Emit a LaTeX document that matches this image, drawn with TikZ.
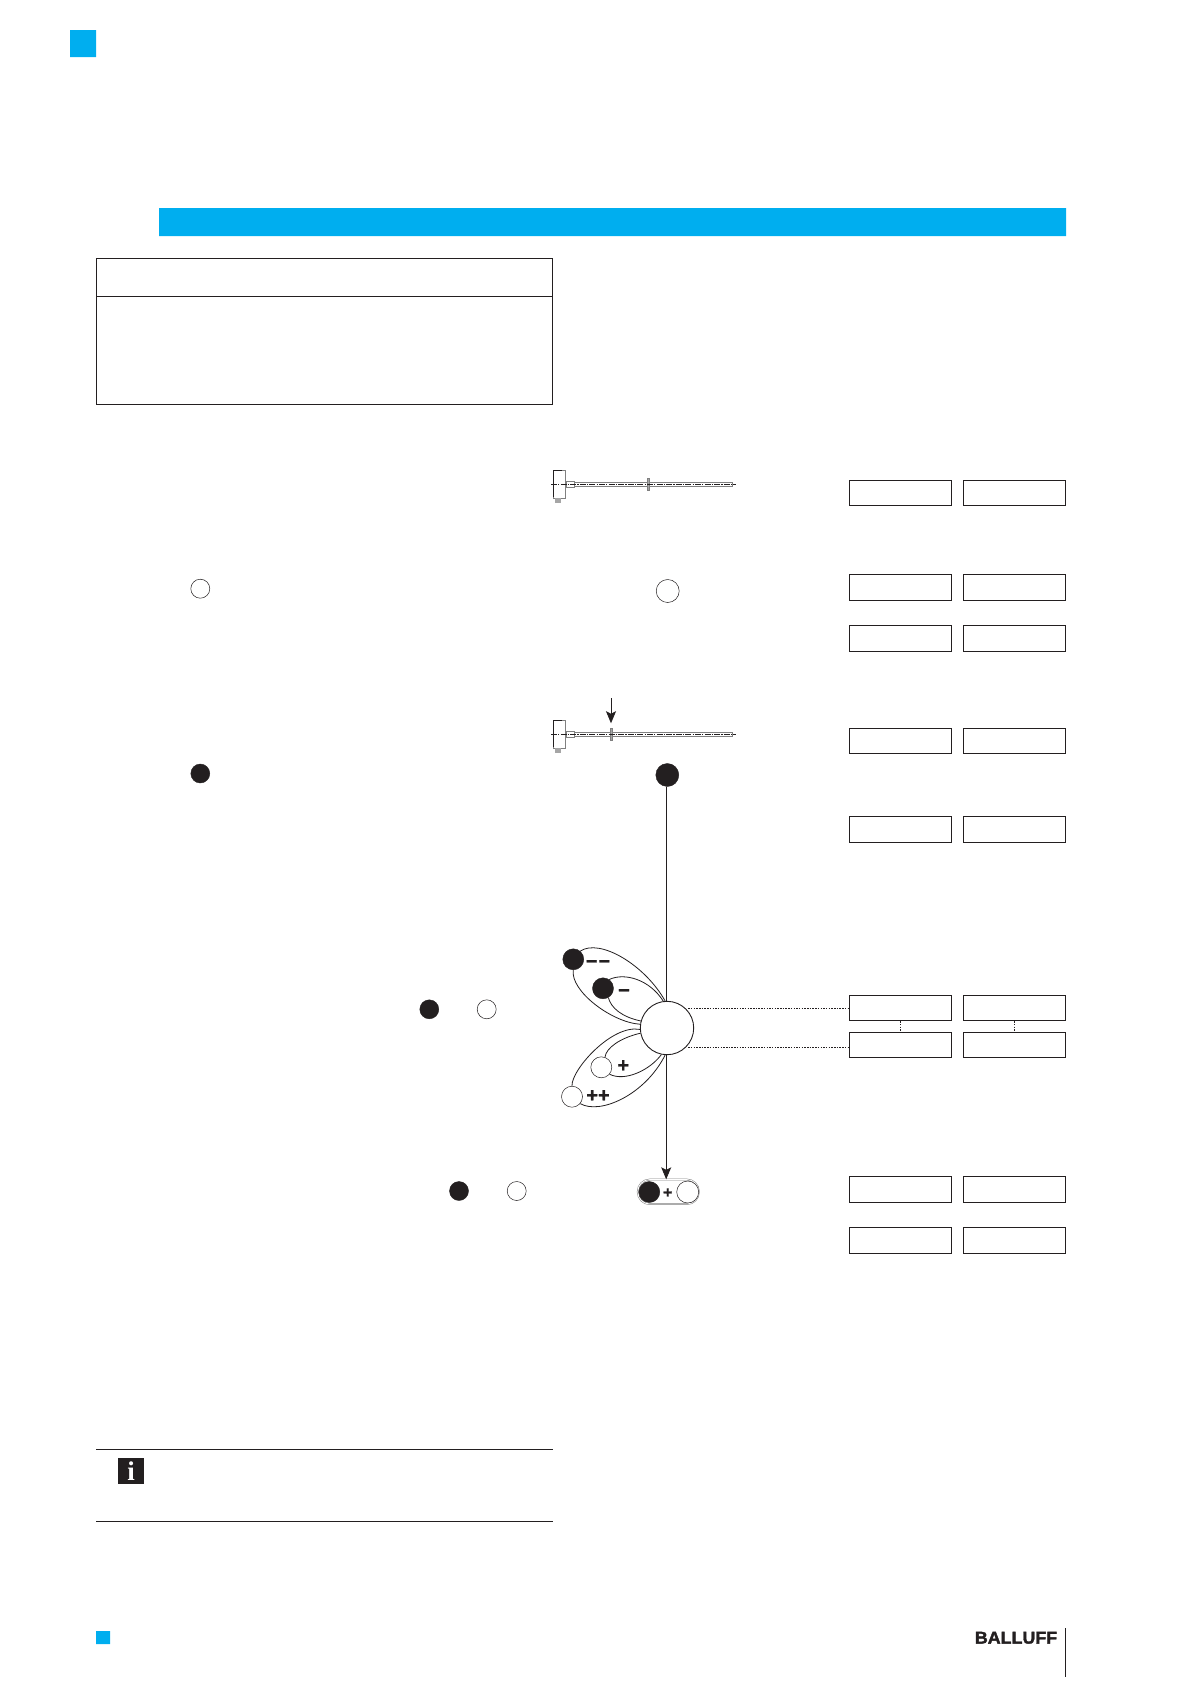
\documentclass[tikz,border=0pt]{standalone}
\usepackage{fontspec}
\setmainfont{Liberation Sans}
\newfontfamily\heavyfont{Liberation Sans}[BoldFeatures={FakeBold=0.8}]
\newfontfamily\logofont{Liberation Sans}[BoldFeatures={FakeBold=2}]
\newfontfamily\infofont{Liberation Serif}
\usetikzlibrary{arrows.meta}
\definecolor{ballblue}{HTML}{00AEEF}
\definecolor{inkblack}{HTML}{231F20}
\tikzset{
	valbox/.style = {draw = inkblack, line width = 0.9pt, minimum width = 102.4pt, minimum height = 25.6pt, inner sep = 0pt},
	blackdot/.style = {circle, fill = inkblack, draw = inkblack, line width = 0.4pt, inner sep = 0pt, minimum size = #1},
	whitedot/.style = {circle, fill = white, draw = inkblack, line width = 0.5pt, inner sep = 0pt, minimum size = #1},
	petal/.style = {draw = inkblack, line width = 0.8pt},
	dotline/.style = {draw = inkblack, line width = 0.9pt, dash pattern = on 1.5pt off 1.2pt},
	sign/.style = {text = inkblack, inner sep = 0pt, font = \fontsize{20}{20}\selectfont\heavyfont\bfseries},
	headtip/.style = {-{Stealth[length = 12pt, width = 10pt, inset = 2.5pt]}}
}

\begin{document}
\begin{tikzpicture}[x = 1pt, y = -1pt]
	\useasboundingbox (0, 0) rectangle (1191, 1684);

	% blue marks
	\fill[ballblue]
		(70, 30) rectangle (96, 57)
		(159, 208) rectangle (1066, 236)
		(96, 1631) rectangle (110, 1644);

	% table at top left
	\draw[inkblack, line width = 0.9pt]
		(96, 258.3) rectangle (552.5, 404.5)
		(96, 296.5) -- (552.5, 296.5);

	% probes
	\foreach \yy/\mx/\nm in {0/648.3/markone, 250/611/marktwo} {
		\begin{scope}[yshift = -\yy pt]
			\draw[gray, line width = 0.8pt]
				(553.3, 470) rectangle (565.3, 498.3)
				(566, 481) rectangle (574.3, 487.7)
				(574.3, 482.3) rectangle (732.7, 486.3);
			\draw[inkblack, line width = 0.9pt] (553.3, 470) -- (553.3, 497) (553.3, 470) -- (562, 470);
			\fill[gray!70] (555, 498.3) rectangle (561, 502.5);
			\node[fill = gray!70, draw = gray, line width = 0.4pt, minimum width = 2.4pt, minimum height = 11.7pt, inner sep = 0pt] (\nm) at (\mx, 484.3) {};
			\draw[inkblack, line width = 0.8pt, dash pattern = on 6pt off 1.2pt on 1.2pt off 1.2pt] (551, 484.3) -- (736, 484.3);
		\end{scope}
	}
	\coordinate (marktop) at (611, 698.3);
	\draw[inkblack, line width = 0.9pt, headtip, shorten >= 5pt] (marktop) -- (marktwo.north);

	% value boxes
	\foreach \n/\yy in {1/493, 2/587.6, 3/638.5, 4/741, 5/829.3, 6/1008, 7/1045, 8/1189.3, 9/1240.3} {
		\node[valbox] (left\n) at (900.5, \yy) {};
		\node[valbox] (right\n) at (1014.5, \yy) {};
	}
	\draw[dotline] (left6) -- (left7);
	\draw[dotline] (right6) -- (right7);

	% dots in the left column
	\node[whitedot = 19pt] (txtwhite) at (200.3, 588.7) {};
	\node[blackdot = 19pt] (txtblack) at (200.3, 773.5) {};
	\node[blackdot = 19pt] (midblack) at (429.3, 1009.3) {};
	\node[whitedot = 19pt] (midwhite) at (486.7, 1009.3) {};
	\node[blackdot = 19pt] (lowblack) at (459, 1191) {};
	\node[whitedot = 19pt] (lowwhite) at (516.7, 1191) {};

	% flow
	\node[whitedot = 23pt] (startwhite) at (667.7, 591) {};
	\node[blackdot = 23pt] (startblack) at (667.3, 775) {};
	\node[whitedot = 53.4pt, line width = 0.9pt] (hub) at (667, 1028) {};
	\node[draw = gray, double = white, double distance = 0.8pt, line width = 0.5pt, rounded corners = 12pt, minimum width = 61pt, minimum height = 24.5pt, inner sep = 0pt] (pill) at (668.3, 1191.8) {};
	\node[blackdot = 21pt] (pillblack) at (649.3, 1192) {};
	\node[whitedot = 22pt] (pillwhite) at (687.7, 1192) {};
	\node[sign, font = \fontsize{16}{16}\selectfont\heavyfont\bfseries] (pillplus) at (667.7, 1193) {+};
	\draw[inkblack, line width = 0.9pt] ([xshift = -0.8pt]startblack.south -| hub.north) -- ([xshift = -0.8pt]hub.north);
	\draw[inkblack, line width = 0.9pt, headtip] ([xshift = -0.8pt]hub.south) -- ([xshift = -0.8pt]pill.north -| hub.south);
	\draw[dotline, shorten <= 2pt] (hub.45) -- (hub.45 -| left6.west);
	\draw[dotline, shorten <= 2pt] (hub.-45) -- (hub.-45 -| left7.west);

	% petals
	\node[blackdot = 21pt] (minustwo) at (573.3, 959.3) {};
	\node[blackdot = 21pt] (minusone) at (603, 988.3) {};
	\node[whitedot = 21pt] (plusone) at (601.3, 1067.3) {};
	\node[whitedot = 21pt] (plustwo) at (572, 1096.7) {};
	\node[sign] (signmm) at (598, 964) {−\kern1pt−};
	\node[sign] (signm) at (624, 993) {−};
	\node[sign] (signp) at (623.3, 1066) {+};
	\node[sign] (signpp) at (598, 1096) {++};
	\draw[petal]
		(minustwo.50) .. controls (600, 938) and (645, 965) .. (hub.94)
		(minustwo.-90) .. controls (570, 991) and (612, 1022.5) .. (hub.172)
		(minusone.55) .. controls (625, 972) and (650, 980) .. (hub.98)
		(minusone.-60) .. controls (611, 1008) and (622, 1017) .. (hub.165)
		(plustwo.90) .. controls (571, 1070) and (612, 1024) .. (hub.183)
		(plustwo.-40) .. controls (600, 1115) and (645, 1095) .. (hub.-94)
		(plusone.70) .. controls (606, 1048) and (620, 1038) .. (hub.191)
		(plusone.-40) .. controls (625, 1082) and (650, 1070) .. (hub.-102);

	% note with symbol
	\draw[inkblack, line width = 0.9pt]
		(96, 1449.3) -- (553, 1449.3)
		(96, 1521) -- (553, 1521);
	\node[fill = inkblack, text = white, minimum size = 26pt, inner sep = 0pt, font = \fontsize{27}{27}\selectfont\infofont\bfseries] (infosign) at (131, 1471) {i};

	% logo and rule
	\node[text = inkblack, inner sep = 0pt, xscale = 1.05, font = \fontsize{17}{17}\selectfont\logofont\bfseries] (logo) at (1016, 1637.8) {BALLUFF};
	\draw[inkblack, line width = 0.9pt] (1065.3, 1628.3) -- (1065.3, 1677);
\end{tikzpicture}
\end{document}
